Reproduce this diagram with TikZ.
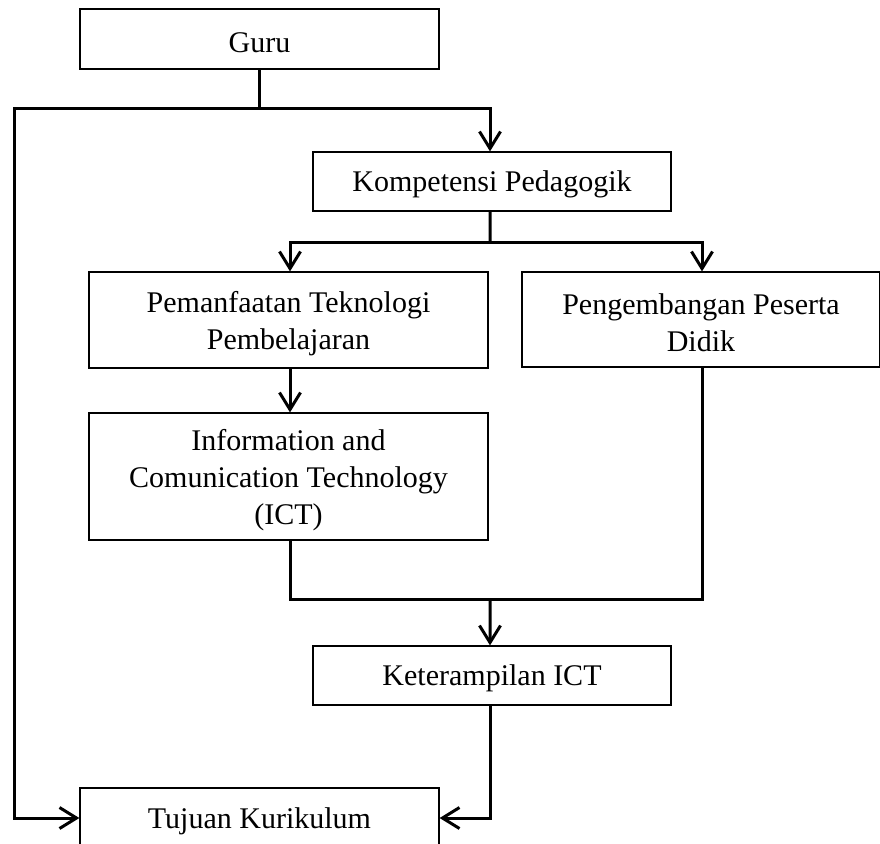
\documentclass[tikz,border=0pt]{standalone}
\usepackage{fontspec}
\setmainfont{Liberation Serif}
\usetikzlibrary{arrows.meta}
\newcommand{\lw}[1]{\raisebox{-1.3pt}[\height][\depth]{#1}}
\begin{document}
\begin{tikzpicture}[x=0.4pt,y=-0.4pt,
  box/.style={draw,line width=0.5pt,inner sep=0pt,align=center,
    font=\fontsize{12pt}{14.8pt}\selectfont},
  conn/.style={line width=1.2pt},
  arr/.style={conn,-{Straight Barb[length=6.8pt,width=8.4pt,line width=1.2pt]}}]
\clip (0,0) rectangle (880,843);
\fill[white] (0,0) rectangle (880,843);
\node[box,minimum width=143.6pt,minimum height=24pt] (guru) at (259.5,39) {\lw{Guru}};
\node[box,minimum width=143.2pt,minimum height=23.6pt] (komp) at (492,181.5) {\lw{Kompetensi Pedagogik}};
\node[box,minimum width=159.6pt,minimum height=38.4pt] (pem) at (288.5,320) {\lw{Pemanfaatan Teknologi}\\\lw{Pembelajaran}};
\node[box,minimum width=143.2pt,minimum height=38pt] (peng) at (701,319.5) {\lw{Pengembangan Peserta}\\\lw{Didik}};
\node[box,minimum width=159.6pt,minimum height=50.8pt] (ict) at (288.5,476.5) {\lw{Information and}\\\lw{Comunication Technology}\\\lw{(ICT)}};
\node[box,minimum width=143.2pt,minimum height=23.6pt] (ket) at (492,675.5) {\lw{Keterampilan ICT}};
\node[box,minimum width=143.6pt,minimum height=24pt] (tuj) at (259.5,818) {\lw{Tujuan Kurikulum}};
\coordinate (j1) at (259.5,108);
\coordinate (L) at (14,108);
\coordinate (j2) at (490,242);
\coordinate (j3) at (490,599);
\draw[conn] (guru.south) -- (j1);
\draw[arr] (j1) -| ([xshift=-0.8pt]komp.north);
\draw[arr] (j1) -- (L) |- (tuj.west);
\draw[conn] ([xshift=-0.8pt]komp.south) -- (j2);
\draw[arr] (j2) -| ([xshift=0.6pt]pem.north);
\draw[arr] (j2) -| ([xshift=0.4pt]peng.north);
\draw[arr] ([xshift=0.6pt]pem.south) -- ([xshift=0.6pt]ict.north);
\draw[conn] ([xshift=0.6pt]ict.south) |- (j3);
\draw[conn] ([xshift=0.4pt]peng.south) |- (j3);
\draw[arr] (j3) -- ([xshift=-0.8pt]ket.north);
\draw[arr] ([xshift=-0.8pt]ket.south) |- (tuj.east);
\end{tikzpicture}
\end{document}
